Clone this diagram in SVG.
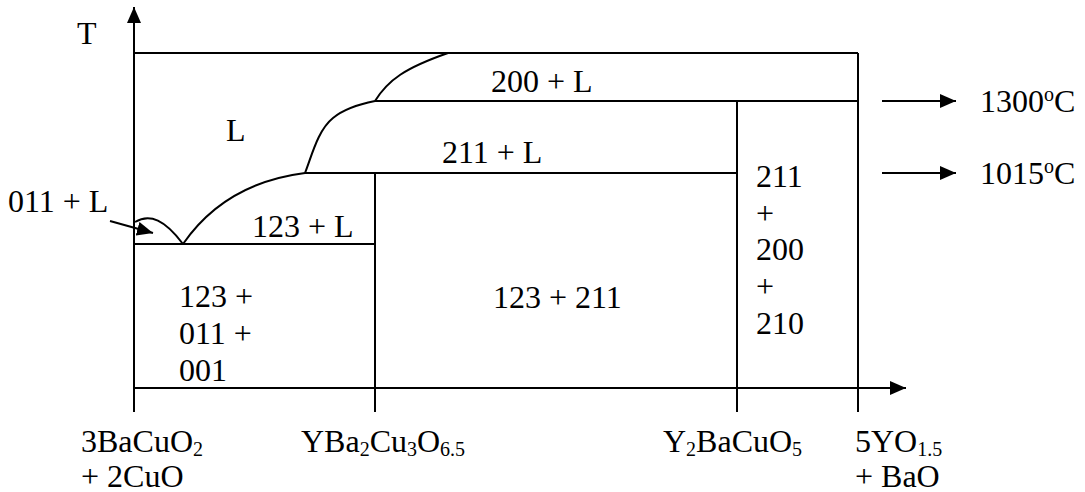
<svg xmlns="http://www.w3.org/2000/svg" width="1085" height="492" viewBox="0 0 1085 492">
<style>
.ln{stroke:#000;stroke-width:2;fill:none}
.t{font-family:"Liberation Serif","Times New Roman",serif;font-size:32px;fill:#000}
.sub{font-size:20px}
</style>
<defs>
<marker id="ah" viewBox="0 0 16 14" refX="16" refY="7" markerWidth="16" markerHeight="14" markerUnits="userSpaceOnUse" orient="auto">
<path d="M0,0 L16,7 L0,14 Z" fill="#000"/>
</marker>
</defs>
<rect width="1085" height="492" fill="#fff"/>
<g id="connectors">
<line class="ln" x1="134" y1="412" x2="134" y2="7" marker-end="url(#ah)"/>
<line class="ln" x1="134" y1="388" x2="906" y2="388" marker-end="url(#ah)"/>
<line class="ln" x1="375" y1="173" x2="375" y2="412"/>
<line class="ln" x1="737" y1="101" x2="737" y2="412"/>
<line class="ln" x1="858" y1="53" x2="858" y2="412"/>
<line class="ln" x1="134" y1="53" x2="858" y2="53"/>
<line class="ln" x1="375" y1="101" x2="858" y2="101"/>
<line class="ln" x1="305" y1="173" x2="737" y2="173"/>
<line class="ln" x1="134" y1="244" x2="375" y2="244"/>
<path class="ln" d="M135,222 C150,213 165,220 183,244"/>
<path class="ln" d="M183,244 C210,205 250,180 305,173"/>
<path class="ln" d="M305,173 C312,155 318,130 333,118 C345,108 360,104 375,101"/>
<path class="ln" d="M375,101 C388,80 405,68 448,53"/>
<line class="ln" x1="110" y1="221" x2="153" y2="233" marker-end="url(#ah)"/>
<line class="ln" x1="882" y1="101" x2="956" y2="101" marker-end="url(#ah)"/>
<line class="ln" x1="882" y1="173" x2="956" y2="173" marker-end="url(#ah)"/>
</g>
<g id="axis-label-T"><text class="t" x="77" y="44">T</text></g>
<g id="region-L"><text class="t" x="226" y="141">L</text></g>
<g id="region-200L"><text class="t" x="491" y="92">200 + L</text></g>
<g id="region-211L"><text class="t" x="442" y="163">211 + L</text></g>
<g id="region-011L"><text class="t" x="8" y="212">011 + L</text></g>
<g id="region-123L"><text class="t" x="252" y="237">123 + L</text></g>
<g id="region-123-011-001">
<text class="t" x="179" y="307">123 +</text>
<text class="t" x="179" y="344">011 +</text>
<text class="t" x="179" y="381">001</text>
</g>
<g id="region-123-211"><text class="t" x="493" y="308">123 + 211</text></g>
<g id="region-211-200-210">
<text class="t" x="756" y="187">211</text>
<text class="t" x="756" y="224">+</text>
<text class="t" x="756" y="260">200</text>
<text class="t" x="756" y="297">+</text>
<text class="t" x="756" y="334">210</text>
</g>
<g id="temp-1300"><text class="t" x="980" y="112">1300<tspan class="sub" dy="-11">o</tspan><tspan dy="11">C</tspan></text></g>
<g id="temp-1015"><text class="t" x="980" y="184">1015<tspan class="sub" dy="-11">o</tspan><tspan dy="11">C</tspan></text></g>
<g id="comp-a">
<text class="t" x="81" y="452">3BaCuO<tspan class="sub" dy="4">2</tspan></text>
<text class="t" x="81" y="487">+ 2CuO</text>
</g>
<g id="comp-b"><text class="t" x="301" y="452">YBa<tspan class="sub" dy="4">2</tspan><tspan dy="-4">Cu</tspan><tspan class="sub" dy="4">3</tspan><tspan dy="-4">O</tspan><tspan class="sub" dy="4">6.5</tspan></text></g>
<g id="comp-c"><text class="t" x="663" y="452">Y<tspan class="sub" dy="4">2</tspan><tspan dy="-4">BaCuO</tspan><tspan class="sub" dy="4">5</tspan></text></g>
<g id="comp-d">
<text class="t" x="855" y="452">5YO<tspan class="sub" dy="4">1.5</tspan></text>
<text class="t" x="855" y="487">+ BaO</text>
</g>
</svg>
